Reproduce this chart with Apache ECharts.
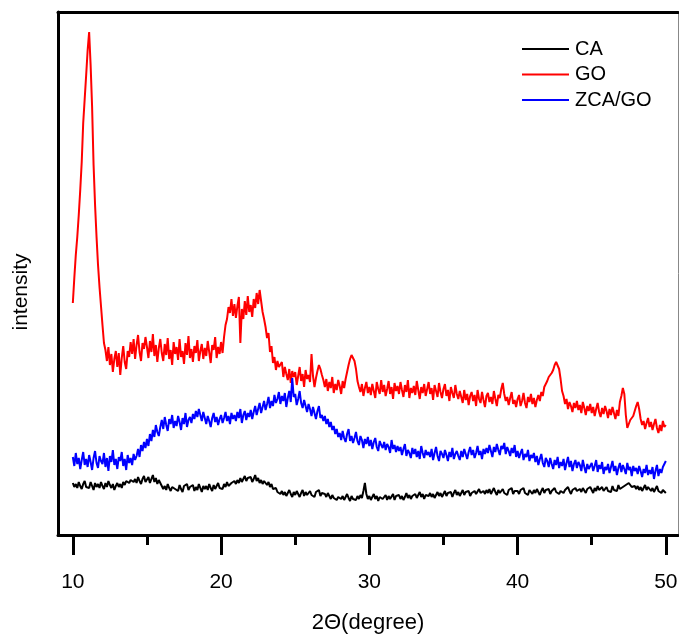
<!DOCTYPE html>
<html>
<head>
<meta charset="utf-8">
<script src="https://cdn.jsdelivr.net/npm/echarts@6/dist/echarts.min.js"></script>
<style>html,body{margin:0;padding:0;background:#fff}#c{width:679px;height:634px}</style>
</head>
<body>
<div id="c"></div>
<script>
// 2θ sampling grid (degrees)
const angleStart = 10;
const angleStep = 0.1;
const angleCount = 401;
const majorTicks = [10, 20, 30, 40, 50];
const minorTicks = [15, 25, 35, 45];
const seriesNames = ['CA', 'GO', 'ZCA/GO'];

// intensity (arbitrary units), one value per 0.1° from 10 to 50
const goValues = [
234,259,282,300,322,347,375,414,438,462,
487,505,472,430,372,332,300,272,250,231,
212,194,187,176,190,172,183,165,178,186,
170,184,162,179,191,175,168,186,180,195,
183,198,178,192,202,185,176,194,188,200,
190,179,196,185,203,181,192,175,189,198,
184,176,193,182,199,178,187,172,195,183,
190,177,198,180,186,173,194,182,201,179,
188,175,191,184,197,176,186,193,178,189,
181,196,185,174,192,187,200,179,190,183,
195,184,200,212,218,230,224,238,221,233,
219,231,240,194,228,218,236,222,241,225,
232,220,238,229,244,233,247,236,225,218,
210,199,204,185,191,174,180,167,176,170,
168,175,160,170,163,157,168,154,166,160,
165,152,161,170,156,163,150,167,158,162,
155,183,161,150,159,166,172,168,162,157,
150,158,146,155,149,160,144,153,147,157,
151,143,156,149,158,165,172,178,182,184,
176,168,156,150,145,153,141,149,155,144,
150,142,153,146,139,155,148,143,157,145,
152,141,148,156,143,150,138,154,146,151,
143,155,147,140,152,145,157,139,149,144,
151,142,156,147,138,150,144,153,141,148,
155,143,149,137,152,146,140,154,145,139,
148,153,141,147,136,150,144,139,152,143,
138,146,140,134,147,137,143,132,141,145,
136,142,131,147,138,134,145,137,130,141,
144,135,140,133,146,138,131,142,139,148,
154,143,136,140,132,139,145,133,137,130,
138,142,131,136,144,134,129,140,135,143,
133,139,130,137,142,136,145,141,150,153,
156,160,158,164,167,172,175,177,168,158,
146,141,133,138,128,135,131,125,134,129,
136,127,132,124,135,129,122,131,126,133,
124,130,121,128,134,125,120,129,123,131,
126,119,128,122,130,124,118,127,121,135,
141,149,143,122,109,113,117,115,121,126,
131,135,128,118,112,116,108,114,119,110,
115,107,113,118,109,104,112,106,116,110,
112];

const zcaGoValues = [
80,71,84,73,79,68,77,85,72,78,
70,82,75,67,79,86,74,69,81,76,
73,84,70,79,66,81,75,87,72,78,
68,80,76,85,71,78,67,82,74,79,
72,83,77,81,88,80,92,86,95,89,
98,91,103,96,107,100,112,105,101,110,
117,108,120,112,106,118,113,122,109,116,
111,121,115,107,119,113,124,110,117,120,
114,123,118,126,120,128,122,116,125,119,
113,121,116,110,119,124,115,120,112,118,
122,114,119,125,116,121,113,124,118,122,
116,125,119,128,114,122,126,117,124,120,
127,118,125,131,122,128,134,124,130,136,
127,133,140,129,136,131,142,134,138,145,
133,141,136,144,130,139,146,135,159,140,
143,132,138,146,134,129,137,131,125,133,
128,121,130,124,118,126,131,119,122,116,
121,113,118,110,115,107,111,103,108,100,
104,97,106,99,95,103,108,96,101,94,
99,105,96,92,101,97,89,98,93,100,
91,97,88,95,99,90,86,96,92,89,
95,87,93,90,84,97,88,92,85,91,
86,90,82,88,93,81,87,84,79,89,
83,88,80,86,78,91,84,79,87,82,
85,80,88,77,84,90,81,76,86,83,
79,87,82,76,85,80,89,78,83,86,
81,77,86,80,88,83,78,85,90,82,
87,79,84,91,82,86,78,88,83,89,
84,92,86,80,90,85,93,87,82,91,
88,94,83,90,86,81,89,84,92,80,
86,79,84,88,77,83,80,87,76,82,
79,84,75,81,72,78,83,74,70,79,
76,70,79,73,68,77,72,80,69,75,
71,78,67,74,80,70,76,66,73,77,
69,75,72,66,77,70,64,73,68,71,
74,66,71,77,65,72,68,75,63,70,
67,73,64,70,76,66,71,62,69,74,
65,72,68,63,74,67,70,61,71,66,
69,63,71,66,60,68,64,72,62,67,
63,70,58,66,72,61,68,64,70,73,
76];

const caValues = [
54,50,53,49,55,51,48,53,56,50,
52,49,55,51,47,54,50,53,49,55,
51,48,54,50,56,52,49,53,47,51,
54,50,53,49,55,52,56,58,54,57,
59,55,58,54,60,56,53,58,61,55,
57,60,54,58,62,55,59,53,57,54,
52,48,51,47,53,49,46,50,52,48,
50,46,52,48,45,51,49,53,47,50,
48,52,46,50,47,53,49,45,51,48,
51,47,53,49,46,52,48,50,54,49,
51,48,53,50,55,51,49,54,52,56,
53,57,54,59,55,58,61,56,59,57,
60,55,58,62,56,59,54,57,53,56,
58,52,55,50,53,48,46,49,45,47,
43,46,42,45,41,44,47,43,40,45,
42,46,43,40,44,47,41,45,42,44,
46,42,44,40,45,43,47,41,44,42,
43,40,44,41,38,42,39,41,37,40,
42,38,41,37,40,43,39,36,41,38,
40,37,41,38,42,39,46,54,43,38,
41,37,40,43,38,41,36,40,42,38,
39,42,37,41,38,40,43,37,41,39,
42,38,41,37,40,44,39,42,38,41,
40,43,39,42,45,40,43,38,42,44,
41,44,40,43,39,42,45,41,44,40,
43,46,41,44,42,45,40,44,47,42,
45,41,44,47,42,45,43,46,41,44,
42,46,43,45,48,44,42,46,43,47,
44,48,43,46,49,45,42,47,44,46,
48,44,46,42,47,45,49,43,46,44,
46,43,47,45,49,44,46,42,47,45,
43,47,44,48,45,42,46,49,44,47,
45,48,43,46,44,49,45,47,43,46,
48,44,47,45,50,46,43,47,45,49,
46,44,48,45,49,47,44,48,46,50,
47,44,49,46,51,47,45,50,46,48,
50,46,48,45,51,47,49,46,52,48,
47,50,48,52,51,54,53,50,49,51,
48,51,47,50,46,49,52,47,50,48,
46,49,45,48,51,46,48,44,47,45,
44];

const angles = [];
for (let i = 0; i < angleCount; i++) angles.push(Math.round((angleStart + i * angleStep) * 10) / 10);
const pairs = vals => vals.map((v, i) => [angles[i], v]);

const FONT = '"Liberation Sans", Arial, sans-serif';
const chart = echarts.init(document.getElementById('c'), null, {renderer: 'canvas'});
chart.setOption({
  animation: false,
  backgroundColor: '#fff',
  grid: {left: 58, right: 1, top: 12, bottom: 99, containLabel: false, outerBoundsMode: 'none'},
  legend: {
    data: seriesNames,
    orient: 'vertical',
    left: 522, top: 39, padding: 0,
    icon: 'path://M0,0H47V2H0Z',
    itemWidth: 47, itemHeight: 14, itemGap: 5.5,
    textStyle: {fontFamily: FONT, fontSize: 20, color: '#000', padding: [0, 0, 0, 1]}
  },
  xAxis: [
    {
      type: 'value', position: 'bottom', min: 9, max: 50.82,
      name: '2Θ(degree)', nameLocation: 'middle', nameGap: 77,
      nameTextStyle: {fontFamily: FONT, fontSize: 22, color: '#000'},
      axisLine: {show: true, lineStyle: {color: '#000', width: 3}},
      axisTick: {show: true, inside: false, length: 20, customValues: majorTicks, lineStyle: {color: '#000', width: 3}},
      axisLabel: {show: true, customValues: majorTicks, margin: 37, fontFamily: FONT, fontSize: 21, color: '#000'},
      splitLine: {show: false}
    },
    {
      type: 'value', position: 'bottom', min: 9, max: 50.82,
      axisLine: {show: false},
      axisTick: {show: true, inside: false, length: 10, customValues: minorTicks, lineStyle: {color: '#000', width: 3}},
      axisLabel: {show: false},
      splitLine: {show: false}
    },
    {
      type: 'value', position: 'top', min: 9, max: 50.82,
      axisLine: {show: true, lineStyle: {color: '#000', width: 3}},
      axisTick: {show: false}, axisLabel: {show: false}, splitLine: {show: false}
    }
  ],
  yAxis: [
    {
      type: 'value', position: 'left', min: 2, max: 525,
      axisLine: {show: true, lineStyle: {color: '#000', width: 3}},
      axisTick: {show: false}, axisLabel: {show: false}, splitLine: {show: false}
    },
    {
      type: 'value', position: 'right', min: 2, max: 525,
      axisLine: {show: true, lineStyle: {color: '#888', width: 1}},
      axisTick: {show: false}, axisLabel: {show: false}, splitLine: {show: false}
    }
  ],
  graphic: [{
    type: 'text', x: 21, y: 292, rotation: Math.PI / 2,
    style: {text: 'intensity', fontFamily: FONT, fontSize: 21, fill: '#000', align: 'center', verticalAlign: 'middle'}
  }],
  series: [
    {name: 'CA', type: 'line', data: pairs(caValues), symbol: 'none', showSymbol: false, lineStyle: {color: '#000', width: 2}, itemStyle: {color: '#000'}},
    {name: 'GO', type: 'line', data: pairs(goValues), symbol: 'none', showSymbol: false, lineStyle: {color: '#ff0000', width: 2}, itemStyle: {color: '#ff0000'}},
    {name: 'ZCA/GO', type: 'line', data: pairs(zcaGoValues), symbol: 'none', showSymbol: false, lineStyle: {color: '#0000ff', width: 2}, itemStyle: {color: '#0000ff'}}
  ]
});
</script>
</body>
</html>
